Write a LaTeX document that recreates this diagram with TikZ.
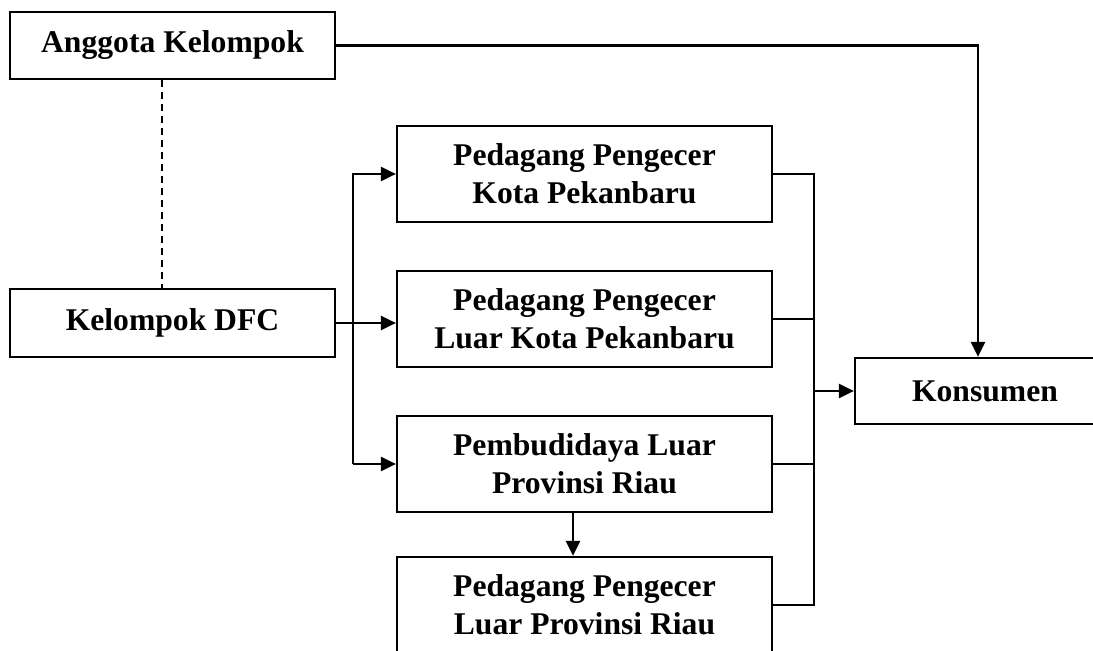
\documentclass[tikz,border=0pt]{standalone}
\usepackage{fontspec}
\setmainfont{Liberation Serif}
\usetikzlibrary{arrows.meta}
\begin{document}
\begin{tikzpicture}[x=0.02cm,y=-0.02cm,line width=1.3pt,
    box/.style={draw,align=center,inner sep=0pt,
      font=\bfseries\fontsize{18}{21.6}\selectfont},
    smallbox/.style={box,minimum width=6.5cm,minimum height=1.35cm},
    bigbox/.style={box,minimum width=7.5cm,minimum height=1.92cm},
    arr/.style={-{Triangle[length=3mm,width=2.8mm]}}]
      \clip (0,0) rectangle (1093,651);
      \draw
        (172.5,45.5) node[smallbox] (anggota){Anggota Kelompok}
        (172.5,323) node[smallbox] (dfc){Kelompok DFC}
        (584.5,174) node[bigbox] (ppkota){Pedagang Pengecer\\Kota Pekanbaru}
        (584.5,319) node[bigbox] (ppluar){Pedagang Pengecer\\Luar Kota Pekanbaru}
        (584.5,464) node[bigbox] (pembud){Pembudidaya Luar\\Provinsi Riau}
        (584.5,605) node[bigbox] (ppprov){Pedagang Pengecer\\Luar Provinsi Riau}
        (985,391) node[box,minimum width=5.2cm,minimum height=1.32cm] (konsumen){Konsumen};
      \coordinate (dash) at (162,0);
      \coordinate (trunk) at (353,0);
      \coordinate (bus) at (814,0);
      \coordinate (down) at (978,0);
      \begin{scope}[-]
        \draw[dash pattern=on 1.4mm off 1mm] (dash |- anggota.south) to (dash |- dfc.north);
        \draw[arr] (anggota.east) -- (down |- anggota.east) -- (down |- konsumen.north);
        \draw[arr] (dfc.east) to (ppluar.west |- dfc.east);
        \draw[arr] (trunk |- pembud.west) -- (trunk |- ppkota.west) -- (ppkota.west);
        \draw[arr] (trunk |- pembud.west) to (pembud.west);
        \draw[arr] (pembud.south -| 573,0) to (ppprov.north -| 573,0);
        \draw (ppkota.east) -- (bus |- ppkota.east) -- (bus |- ppprov.east) -- (ppprov.east);
        \draw (ppluar.east) to (bus |- ppluar.east);
        \draw (pembud.east) to (bus |- pembud.east);
        \draw[arr] (bus |- konsumen.west) to (konsumen.west);
      \end{scope}
\end{tikzpicture}
\end{document}
